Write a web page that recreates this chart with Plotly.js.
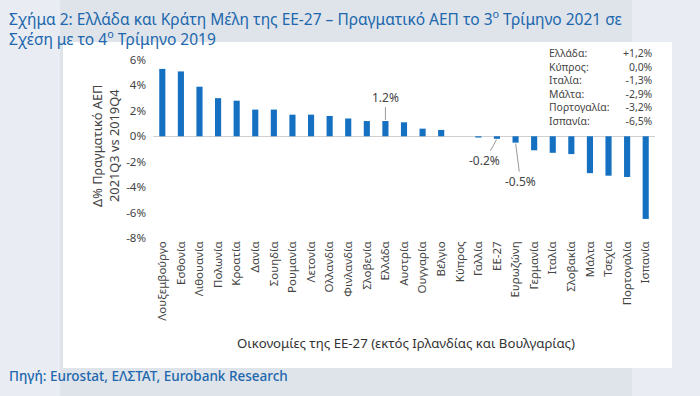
<!DOCTYPE html>
<html>
<head>
<meta charset="utf-8">
<script src="https://cdn.plot.ly/plotly-3.0.1.min.js"></script>
<style>html,body{margin:0;padding:0;background:#e9edf3;}#chart{width:700px;height:396px;}</style>
</head>
<body>
<div id="chart"></div>
<script>
const categories = ["Λουξεμβούργο","Εσθονία","Λιθουανία","Πολωνία","Κροατία","Δανία","Σουηδία","Ρουμανία","Λετονία","Ολλανδία","Φινλανδία","Σλοβενία","Ελλάδα","Αυστρία","Ουγγαρία","Βέλγιο","Κύπρος","Γαλλία","ΕΕ-27","Ευρωζώνη","Γερμανία","Ιταλία","Σλοβακία","Μάλτα","Τσεχία","Πορτογαλία","Ισπανία"];
const values = [5.3,5.1,3.9,3.0,2.8,2.1,2.1,1.7,1.7,1.6,1.4,1.2,1.2,1.1,0.6,0.5,0.0,-0.1,-0.2,-0.5,-1.1,-1.3,-1.4,-2.9,-3.1,-3.2,-6.5];
const yTickVals = [-8,-6,-4,-2,0,2,4,6];
const yTickText = ["-8%","-6%","-4%","-2%","0%","2%","4%","6%"];
const boxNames = ["Ελλάδα:","Κύπρος:","Ιταλία:","Μάλτα:","Πορτογαλία:","Ισπανία:"];
const boxValues = ["+1,2%","0,0%","-1,3%","-2,9%","-3,2%","-6,5%"];
const callouts = [
  {cat:"Ελλάδα", val:1.2, text:"1.2%", ax:0, ay:-24},
  {cat:"ΕΕ-27", val:-0.2, text:"-0.2%", ax:-12, ay:22},
  {cat:"Ευρωζώνη", val:-0.5, text:"-0.5%", ax:5, ay:39}
];
const titleLines = [
  "Σχήμα 2: Ελλάδα και Κράτη Μέλη της ΕΕ-27 – Πραγματικό ΑΕΠ το 3<sup>ο</sup> Τρίμηνο 2021 σε",
  "Σχέση με το 4<sup>ο</sup> Τρίμηνο 2019"
];

const font = "'Noto Sans', 'Open Sans', sans-serif";
const blue = "#2067ad";

const trace = {
  type: "bar",
  x: categories,
  y: values,
  marker: {color: "#1570c1"},
  hoverinfo: "x+y"
};

const px = v => (v - 153) / 502;
const py = v => (238 - v) / 178;

const annotations = [];
callouts.forEach(c => annotations.push({
  x: c.cat, y: c.val, xref: "x", yref: "y", text: c.text,
  showarrow: true, arrowhead: 0, arrowwidth: 1, arrowcolor: "#9a9a9a",
  ax: c.ax, ay: c.ay, standoff: 1,
  font: {family: font, size: 12, color: "#444"}
}));
// summary box (two multi-line columns)
annotations.push({xref: "paper", yref: "paper", x: px(547), y: py(44), xanchor: "left", yanchor: "top", align: "left",
  text: boxNames.join("<br>"), showarrow: false, font: {family: font, size: 10.4, color: "#444"}});
annotations.push({xref: "paper", yref: "paper", x: px(655), y: py(44), xanchor: "right", yanchor: "top", align: "right",
  text: boxValues.join("<br>"), showarrow: false, font: {family: font, size: 10.4, color: "#444"}});
// title
annotations.push({xref: "paper", yref: "paper", x: px(7), y: py(4), xanchor: "left", yanchor: "top", align: "left",
  text: titleLines.join("<br>"), showarrow: false, font: {family: font, size: 15.5, color: blue}});
// y axis title
annotations.push({xref: "paper", yref: "paper", x: px(105), y: py(146), xanchor: "center", yanchor: "middle",
  text: "Δ% Πραγματικό ΑΕΠ<br>2021Q3 vs 2019Q4", textangle: -90, showarrow: false,
  font: {family: font, size: 12.8, color: "#444"}});
// x axis title
annotations.push({xref: "paper", yref: "paper", x: px(406), y: py(343), xanchor: "center", yanchor: "middle",
  text: "Οικονομίες της ΕΕ-27 (εκτός Ιρλανδίας και Βουλγαρίας)", showarrow: false,
  font: {family: font, size: 13.2, color: "#333"}});
// source
annotations.push({xref: "paper", yref: "paper", x: px(7), y: py(376), xanchor: "left", yanchor: "middle",
  text: "Πηγή: Eurostat, ΕΛΣΤΑΤ, Eurobank Research", showarrow: false,
  font: {family: font, size: 13.5, color: blue, weight: 500}});

const shapes = [
  {type: "rect", xref: "paper", yref: "paper", x0: px(60), x1: px(632), y0: py(396), y1: py(0), fillcolor: "#dfe4ea", line: {width: 0}, layer: "below"},
  {type: "rect", xref: "paper", yref: "paper", x0: px(63), x1: px(672), y0: py(368), y1: py(42), fillcolor: "#ffffff", line: {width: 0}, layer: "below"}
];

const layout = {
  width: 700, height: 396,
  margin: {l: 153, r: 45, t: 60, b: 158},
  paper_bgcolor: "#e9edf3",
  plot_bgcolor: "rgba(0,0,0,0)",
  showlegend: false,
  bargap: 0.67,
  font: {family: font, color: "#444"},
  xaxis: {
    type: "category", tickangle: -90, showgrid: false, showline: false, zeroline: false,
    tickfont: {family: font, size: 11.5, color: "#444"}, ticks: "", automargin: false
  },
  yaxis: {
    range: [-8, 6], tickvals: yTickVals, ticktext: yTickText, showgrid: false, showline: false,
    zeroline: true, zerolinecolor: "#d0d0d0", zerolinewidth: 1, ticks: "", ticklabelstandoff: 6,
    tickfont: {family: font, size: 11.5, color: "#444"}, automargin: false
  },
  shapes: shapes,
  annotations: annotations
};

Plotly.newPlot("chart", [trace], layout, {displayModeBar: false, staticPlot: true});
</script>
</body>
</html>
